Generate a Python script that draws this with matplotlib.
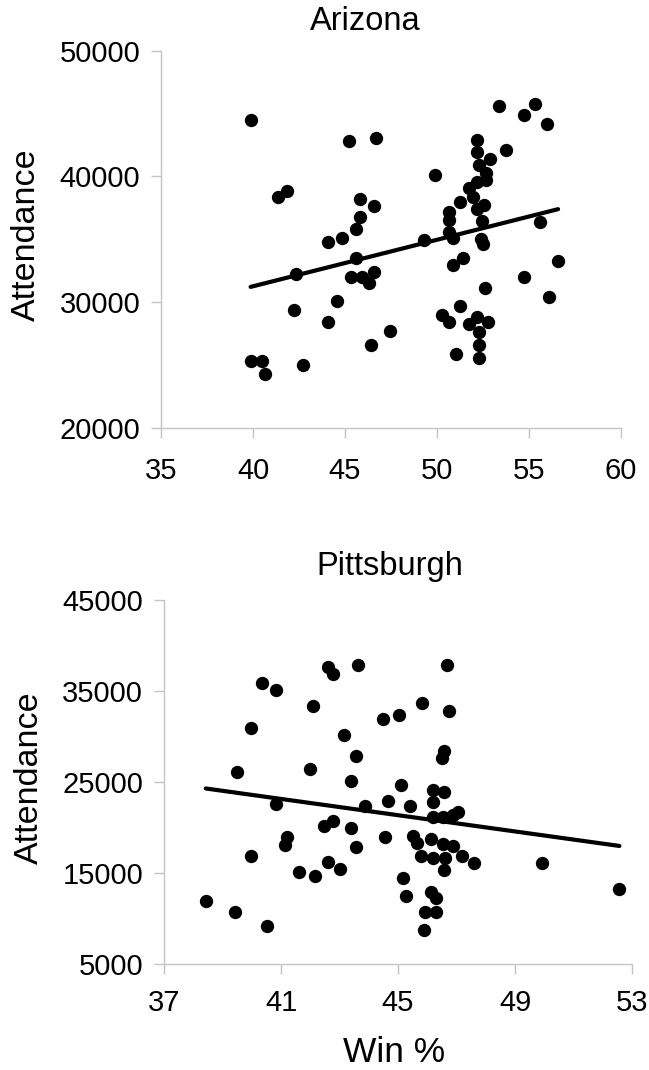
import numpy as np
import matplotlib
matplotlib.use('Agg')
import matplotlib.pyplot as plt

plt.rcParams['font.family'] = ['Liberation Sans', 'DejaVu Sans']

# ==========================================================================================
# Dados: Arizona
az_win = [39.89, 45.22, 46.68, 41.87, 41.38, 45.82, 46.55, 45.82, 45.58, 44.84, 44.09, 49.28,
          45.58, 42.36, 45.33, 45.94, 46.55, 46.30, 44.58, 42.24, 44.09, 47.43, 46.43, 39.87,
          40.51, 40.63, 42.74,
          53.35, 55.34, 54.73, 55.96, 52.16, 53.75, 52.16, 52.88, 49.91, 52.27, 52.66, 52.66,
          52.16, 51.76, 51.98, 51.25, 52.55, 52.16, 50.67, 50.67, 52.47, 55.60, 50.67, 50.85,
          52.37, 52.52, 51.43, 50.89, 56.58, 54.73, 52.63, 56.09, 51.25, 50.27, 50.67, 52.16,
          51.72, 52.77, 52.27, 52.27, 51.03, 52.27]
az_att = [44460, 42850, 43030, 38880, 38350, 38190, 37630, 36740, 35830, 35120, 34750, 34930,
          33480, 32230, 32020, 32020, 32390, 31490, 30060, 29350, 28450, 27730, 26620, 25350,
          25350, 24290, 25000,
          45580, 45760, 44860, 44150, 42880, 42140, 41980, 41420, 40150, 40890, 40280, 39700,
          39560, 39120, 38370, 37980, 37710, 37450, 37180, 36520, 36470, 36390, 35590, 35120,
          34990, 34670, 33480, 32950, 33290, 32020, 31120, 30410, 29690, 28980, 28400, 28840,
          28240, 28420, 27630, 26590, 25880, 25540]

# Dados: Pittsburgh
pit_win = [42.62, 42.78, 43.63, 40.36, 40.83, 42.08, 45.81, 45.02, 44.48, 39.96, 43.15, 43.55,
           42.00, 39.51, 43.39, 45.10, 44.65, 45.41, 43.86, 40.83, 42.78, 42.46, 43.39, 41.22,
           41.15, 44.56, 43.55, 45.50, 45.65, 39.96, 42.62, 43.00, 41.60, 42.15, 45.18, 45.26,
           38.43, 39.43, 40.52, 45.80,
           46.66, 46.74, 46.58, 46.49, 46.19, 46.58, 46.19, 47.06, 46.89, 46.19, 46.53, 46.12,
           46.55, 46.89, 47.19, 47.60, 46.19, 46.61, 46.57, 49.92, 52.57, 46.12, 46.30, 45.93,
           46.30, 45.89]
pit_att = [37640, 36870, 37890, 35880, 35110, 33390, 33650, 32360, 31890, 30900, 30170, 27890,
           26400, 26130, 25140, 24640, 22910, 22400, 22400, 22620, 20680, 20130, 19910, 18960,
           18110, 18920, 17890, 19070, 18300, 16900, 16180, 15410, 15140, 14670, 14420, 12440,
           11920, 10680, 9180, 16900,
           37890, 32840, 28440, 27610, 24120, 23900, 22770, 21740, 21370, 21190, 21190, 18700,
           18150, 17970, 16900, 16130, 16620, 16620, 15330, 16130, 13210, 12950, 12220, 10710,
           10710, 8740]

az_xticks = [35, 40, 45, 50, 55, 60]
az_yticks = [20000, 30000, 40000, 50000]
pit_xticks = [37, 41, 45, 49, 53]
pit_yticks = [5000, 15000, 25000, 35000, 45000]

# ==========================================================================================
W, H = 649, 1070
fig = plt.figure(figsize=(W / 100, H / 100), dpi=100)
grid_color = '#c4c4c4'


def painel(rect, x, y, xt, yt, titulo, title_xy, ylab_xy, xpad, xlabel=None):
    ax = fig.add_axes(rect)
    ax.scatter(x, y, s=92, color='black', linewidths=0, zorder=3, clip_on=False)

    # Linha de tendência (regressão linear)
    a, b = np.polyfit(x, y, 1)
    xl = np.array([min(x), max(x)])
    ax.plot(xl, a * xl + b, color='black', lw=3.0, solid_capstyle='round', zorder=2)

    ax.set_xlim(xt[0], xt[-1])
    ax.set_ylim(yt[0], yt[-1])
    ax.set_xticks(xt)
    ax.set_yticks(yt)
    ax.tick_params(axis='both', labelsize=21, color=grid_color, length=7, width=1,
                   direction='out')
    ax.tick_params(axis='y', pad=8)
    ax.tick_params(axis='x', pad=xpad)
    for s in ['top', 'right']:
        ax.spines[s].set_visible(False)
    for s in ['left', 'bottom']:
        ax.spines[s].set_color(grid_color)
        ax.spines[s].set_linewidth(1)

    fig.text(title_xy[0] / W, 1 - title_xy[1] / H, titulo, fontsize=23.5,
             ha='center', va='center')
    fig.text(ylab_xy[0] / W, 1 - ylab_xy[1] / H, 'Attendance', fontsize=24.5,
             rotation=90, ha='center', va='center')
    if xlabel:
        fig.text(394 / W, 1 - 1052 / H, xlabel, fontsize=25.5, ha='center', va='center')
    return ax


painel([161 / W, 1 - 428 / H, (621 - 161) / W, (428 - 50.7) / H],
       az_win, az_att, az_xticks, az_yticks, 'Arizona', (365, 21), (26, 235), 14)

painel([164 / W, 1 - 964 / H, (632 - 164) / W, (964 - 600) / H],
       pit_win, pit_att, pit_xticks, pit_yticks, 'Pittsburgh', (390, 566), (29, 778), 11,
       xlabel='Win %')

plt.savefig('out.png', dpi=100)
